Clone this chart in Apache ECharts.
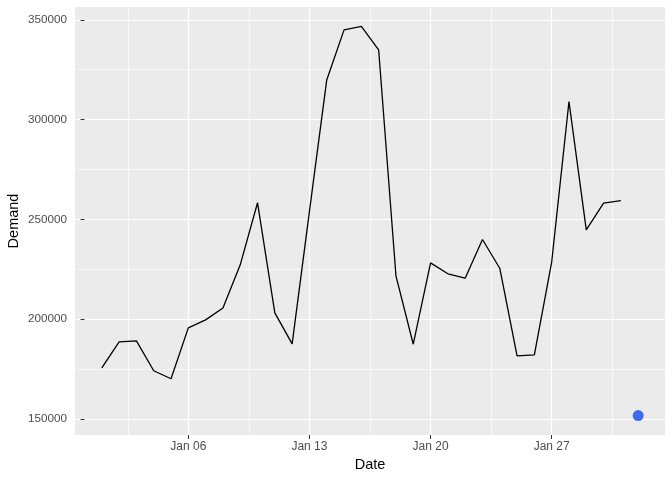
<!DOCTYPE html>
<html>
<head>
<meta charset="utf-8">
<script src="https://cdn.jsdelivr.net/npm/echarts@6/dist/echarts.min.js"></script>
<style>html,body{margin:0;padding:0;background:#fff}#c{width:672px;height:480px}</style>
</head>
<body>
<div id="c"></div>
<script>
// Data (day of January; Feb 01 = 32)
const lineDays = [1,2,3,4,5,6,7,8,9,10,11,12,13,14,15,16,17,18,19,20,21,22,23,24,25,26,27,28,29,30,31];
const demand = [175600,188600,189100,174100,170100,195600,199600,205600,227200,258300,203100,187600,254000,319900,345000,346700,335000,221700,187400,228200,222700,220500,239900,225500,181600,182100,228500,309000,244700,258100,259400];
const forecastDay = [32];
const forecastValue = [151650];
const xTickDays = [6,13,20,27];
const xTickLabels = ['Jan 06','Jan 13','Jan 20','Jan 27'];
const xMinorDays = [2.5,9.5,16.5,23.5,30.5];
const yTicks = [150000,200000,250000,300000,350000];
const yMinor = [175000,225000,275000,325000];

const allX = lineDays.concat(forecastDay);
const allY = demand.concat(forecastValue);
const xMinV = Math.min(...allX), xMaxV = Math.max(...allX);
const yMinV = Math.min(...allY), yMaxV = Math.max(...allY);
const xPad = (xMaxV - xMinV) * 0.05, yPad = (yMaxV - yMinV) * 0.05;
const xMin = xMinV - xPad, xMax = xMaxV + xPad;
const yMin = yMinV - yPad, yMax = yMaxV + yPad;

const font = 'Liberation Sans, Arial, sans-serif';
const labelMap = {};
xTickDays.forEach((d, i) => labelMap[d] = xTickLabels[i]);

const chart = echarts.init(document.getElementById('c'), null, {renderer: 'canvas'});
chart.setOption({
  animation: false,
  backgroundColor: '#ffffff',
  grid: {left: 75, right: 7, top: 7, bottom: 45, show: true, backgroundColor: '#EBEBEB', borderWidth: 0,
    containLabel: false, outerBoundsMode: 'none'},
  xAxis: [{
    type: 'value', min: xMin, max: xMax,
    axisLine: {show: false},
    axisTick: {show: true, length: 4, lineStyle: {color: '#333333', width: 1}, customValues: xTickDays},
    axisLabel: {show: true, customValues: xTickDays, margin: 6, color: '#4D4D4D', fontSize: 12, fontFamily: font,
      formatter: v => labelMap[v] || ''},
    splitLine: {show: true, lineStyle: {color: '#ffffff', width: 1.2}},
    name: 'Date', nameLocation: 'middle', nameGap: 22, nameMoveOverlap: false,
    nameTextStyle: {color: '#000', fontSize: 14.5, fontFamily: font}
  }, {
    type: 'value', min: xMin, max: xMax, position: 'bottom',
    axisLine: {show: false},
    axisTick: {show: false, customValues: xMinorDays},
    axisLabel: {show: false, customValues: xMinorDays},
    splitLine: {show: true, lineStyle: {color: '#ffffff', width: 0.6}}
  }],
  yAxis: [{
    type: 'value', min: yMin, max: yMax,
    axisLine: {show: false},
    axisTick: {show: true, length: 4, lineStyle: {color: '#333333', width: 1}, customValues: yTicks},
    axisLabel: {show: true, customValues: yTicks, margin: 8, color: '#4D4D4D', fontSize: 11.7, fontFamily: font,
      formatter: v => String(v)},
    splitLine: {show: true, lineStyle: {color: '#ffffff', width: 1.2}},
    name: 'Demand', nameLocation: 'middle', nameGap: 54, nameRotate: 90, nameMoveOverlap: false,
    nameTextStyle: {color: '#000', fontSize: 14.5, fontFamily: font}
  }, {
    type: 'value', min: yMin, max: yMax, position: 'left',
    axisLine: {show: false},
    axisTick: {show: false, customValues: yMinor},
    axisLabel: {show: false, customValues: yMinor},
    splitLine: {show: true, lineStyle: {color: '#ffffff', width: 0.6}}
  }],
  series: [{
    type: 'line', xAxisIndex: 0, yAxisIndex: 0,
    data: lineDays.map((d, i) => [d, demand[i]]),
    showSymbol: false, symbol: 'none',
    lineStyle: {color: '#000000', width: 1.3},
    z: 3
  }, {
    type: 'scatter', xAxisIndex: 0, yAxisIndex: 0,
    data: forecastDay.map((d, i) => [d, forecastValue[i]]),
    symbolSize: 11,
    itemStyle: {color: '#3F6BEF', opacity: 1},
    z: 4
  }]
});
</script>
</body>
</html>
